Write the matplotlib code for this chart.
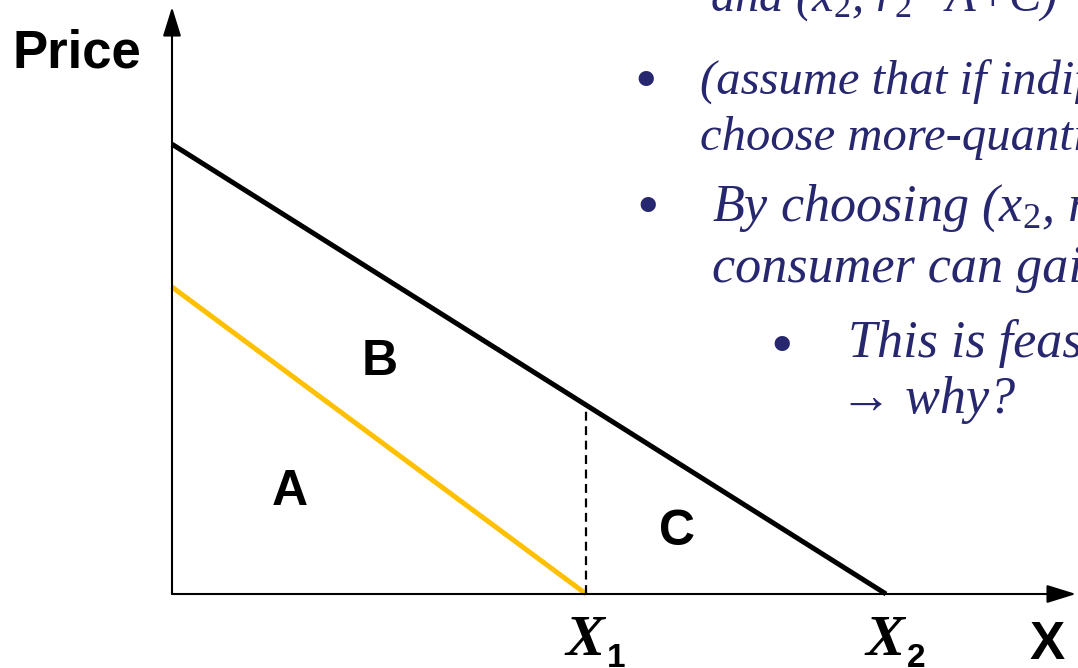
import numpy as np
import matplotlib
matplotlib.use("Agg")
import matplotlib.pyplot as plt

plt.rcParams['mathtext.fontset'] = 'custom'
plt.rcParams['mathtext.rm'] = 'Liberation Serif'
plt.rcParams['mathtext.it'] = 'Liberation Serif:italic'

W, H = 1078, 668

# quantities and price intercepts of the two demand lines
x1 = 5.8
x2 = 10.0
p_high = 6.3
p_low = 4.3

high_x = [0, x2]
high_y = [p_high, 0]
low_x = [0, x1]
low_y = [p_low, 0]

area_labels = ['A', 'B', 'C']
area_pos = [(1.65, 1.25), (2.91, 3.07), (7.07, 0.69)]

quantity_labels = ['1', '2']
quantity_values = [x1, x2]

navy = '#27276f'
gold = '#ffc000'

fig = plt.figure(figsize=(W / 100, H / 100), dpi=100)
ax = fig.add_axes([0, 0, 1, 1])
ax.axis('off')
scale = 71.4  # pixels per unit
ax.set_xlim(-172 / scale, (W - 172) / scale)
ax.set_ylim(-(H - 594) / scale, 594 / scale)

# axes with arrow heads
arrow = dict(arrowstyle='-|>,head_length=0.9,head_width=0.28', color='black',
             lw=1.5, shrinkA=0, shrinkB=0, mutation_scale=20)
ax.annotate('', xy=(0, 587 / scale), xytext=(0, 0), arrowprops=arrow,
            annotation_clip=False)
ax.annotate('', xy=((W - 2 - 172) / scale, 0), xytext=(0, 0), arrowprops=arrow,
            annotation_clip=False)

ax.plot(high_x, high_y, color='black', lw=3.6, solid_capstyle='butt')
ax.plot(low_x, low_y, color=gold, lw=3.6, solid_capstyle='butt')

p_at_x1 = np.interp(x1, high_x, high_y)
ax.plot([x1, x1], [0, p_at_x1], color='black', lw=1.6, ls=(0, (4, 2.5)))

for lab, (lx, ly) in zip(area_labels, area_pos):
    ax.text(lx, ly, lab, ha='center', va='baseline', fontsize=36,
            fontweight='bold', family='Liberation Sans')

y_lab = -(655 - 594) / scale
for sub, q in zip(quantity_labels, quantity_values):
    ax.text(q - 0.02, y_lab, 'X', ha='center', va='baseline', fontsize=42,
            fontweight='bold', fontstyle='italic', family='Liberation Serif')
    ax.text(q + 0.29, -(667 - 594) / scale, sub, ha='left', va='baseline',
            fontsize=24, fontweight='bold', family='Liberation Sans')


def px(x, y):
    return x / W, 1 - y / H


fig.text(*px(12, 68), 'Price', fontsize=38, fontweight='bold',
         family='Liberation Sans', va='baseline')
fig.text(*px(1030, 659), 'X', fontsize=38, fontweight='bold',
         family='Liberation Sans', va='baseline')

# slide text on the right (clipped by the figure edge)
lines = [
    (710, 11, 'and (x$_2$, r$_2$=A+C)', 35),
    (700, 95, '(assume that if indifferent, consumers', 35),
    (700, 150, 'choose more-quantity option)', 35),
    (712, 221, 'By choosing (x$_2$, r$_2$), the', 37.5),
    (712, 282, 'consumer can gain C', 37.5),
    (848, 357, 'This is feasible', 37.5),
    (840, 413, '\u2192 why?', 37.5),
]
for x, y, s, size in lines:
    fig.text(*px(x, y), s, fontsize=size, fontstyle='italic',
             family='Liberation Serif', color=navy, va='baseline')

for x, y in [(646, 100), (648, 226), (782, 365)]:
    fig.text(*px(x, y), '\u2022', fontsize=46, family='Liberation Serif',
             color=navy, ha='center', va='baseline')

fig.savefig('out.png', dpi=100)
